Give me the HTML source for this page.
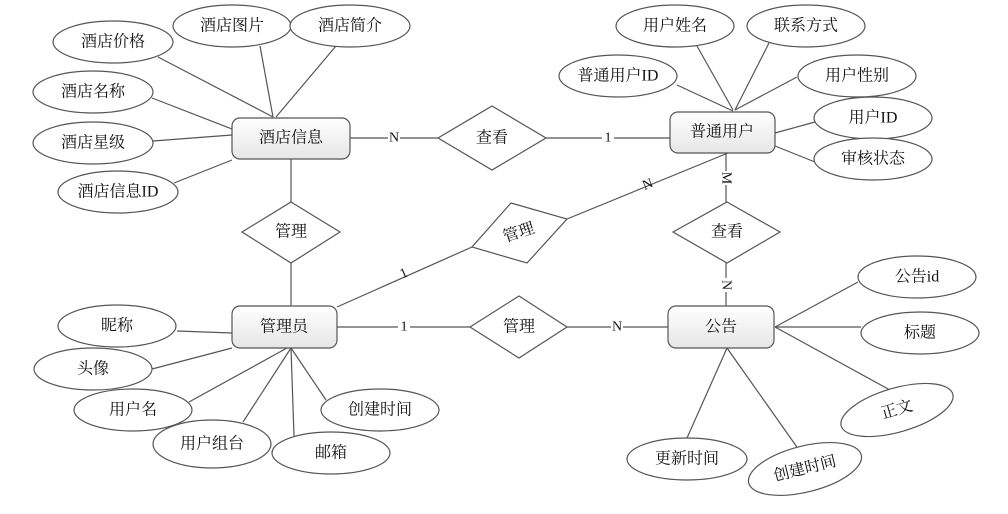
<!DOCTYPE html>
<html><head><meta charset="utf-8"><style>
html,body{margin:0;padding:0;background:#fff;}
svg{display:block;}
text{font-family:"Liberation Serif","Noto Serif CJK SC",serif;font-size:16px;fill:#111;text-anchor:middle;dominant-baseline:central;}
</style></head><body>
<svg width="1008" height="514" viewBox="0 0 1008 514" xmlns="http://www.w3.org/2000/svg">
<defs><linearGradient id="g" x1="0" y1="0" x2="0" y2="1"><stop offset="0" stop-color="#ffffff"/><stop offset="1" stop-color="#e6e6e6"/></linearGradient></defs>
<g stroke="#555" stroke-width="1.2" fill="none">
<!-- hotel lines -->
<line x1="158" y1="57" x2="273" y2="117"/>
<line x1="260" y1="46" x2="273" y2="117"/>
<line x1="336" y1="46" x2="276" y2="117"/>
<line x1="152" y1="98" x2="232" y2="129"/>
<line x1="153" y1="141" x2="232" y2="135"/>
<line x1="174" y1="183" x2="232" y2="160"/>
<line x1="350" y1="138" x2="438" y2="138"/>
<line x1="546" y1="138" x2="670" y2="138"/>
<line x1="291" y1="159" x2="291" y2="202"/>
<line x1="291" y1="263" x2="291" y2="306"/>
<!-- user lines -->
<line x1="677" y1="85" x2="733" y2="111"/>
<line x1="697" y1="46" x2="733" y2="110"/>
<line x1="769" y1="43" x2="735" y2="110"/>
<line x1="797" y1="77" x2="735" y2="110"/>
<line x1="815" y1="122" x2="775" y2="133"/>
<line x1="815" y1="162" x2="775" y2="146"/>
<line x1="728" y1="153" x2="567" y2="219"/>
<line x1="726" y1="153" x2="726" y2="202"/>
<line x1="726" y1="263" x2="726" y2="306"/>
<line x1="337" y1="307" x2="472" y2="247"/>
<line x1="337" y1="327" x2="470" y2="327"/>
<line x1="567" y1="327" x2="668" y2="327"/>
<!-- notice lines -->
<line x1="858" y1="282" x2="775" y2="327"/>
<line x1="775" y1="327" x2="861" y2="327"/>
<line x1="775" y1="327" x2="890" y2="390"/>
<line x1="727" y1="348" x2="687" y2="438"/>
<line x1="727" y1="348" x2="799" y2="450"/>
<!-- admin lines -->
<line x1="177" y1="331" x2="232" y2="333"/>
<line x1="152" y1="369" x2="232" y2="348"/>
<line x1="189" y1="402" x2="287" y2="348"/>
<line x1="243" y1="422" x2="291" y2="348"/>
<line x1="294" y1="436" x2="291" y2="348"/>
<line x1="326" y1="400" x2="291" y2="348"/>
</g>
<g stroke="#555" stroke-width="1.2" fill="#fff">
<ellipse cx="113" cy="42" rx="60" ry="21"/>
<ellipse cx="232" cy="26" rx="59" ry="21"/>
<ellipse cx="350" cy="26" rx="60" ry="21"/>
<ellipse cx="93" cy="92" rx="60" ry="21"/>
<ellipse cx="93" cy="143" rx="60" ry="21"/>
<ellipse cx="118" cy="192" rx="60" ry="21"/>
<ellipse cx="675" cy="26" rx="59" ry="21"/>
<ellipse cx="806" cy="26" rx="59" ry="21"/>
<ellipse cx="618" cy="76" rx="59" ry="21"/>
<ellipse cx="857" cy="76" rx="59" ry="21"/>
<ellipse cx="873" cy="118" rx="59" ry="21"/>
<ellipse cx="873" cy="159" rx="59" ry="21"/>
<ellipse cx="917" cy="277" rx="59" ry="21"/>
<ellipse cx="920" cy="333" rx="59" ry="21"/>
<ellipse cx="897" cy="410" rx="58" ry="22" transform="rotate(-16 897 410)"/>
<ellipse cx="687" cy="459" rx="60" ry="21"/>
<ellipse cx="805" cy="469" rx="58" ry="23" transform="rotate(-14 805 469)"/>
<ellipse cx="117" cy="326" rx="59" ry="21"/>
<ellipse cx="93" cy="369" rx="59" ry="21"/>
<ellipse cx="133" cy="410" rx="59" ry="21"/>
<ellipse cx="212" cy="444" rx="59" ry="24"/>
<ellipse cx="331" cy="453" rx="59" ry="21"/>
<ellipse cx="380" cy="410" rx="59" ry="21"/>
<polygon points="492,106 546,138 492,170 438,138"/>
<polygon points="291,202 340,232 291,263 242,232"/>
<polygon points="727,202 780,232 727,263 673,232"/>
<polygon points="519,296 567,327 519,358 470,327"/>
<polygon points="511,203 567,219 527,263 472,247"/>
</g>
<g stroke="#555" stroke-width="1.2" fill="url(#g)">
<rect x="232" y="118" width="118" height="41" rx="8"/>
<rect x="670" y="112" width="105" height="41" rx="8"/>
<rect x="232" y="306" width="105" height="42" rx="8"/>
<rect x="668" y="306" width="106" height="42" rx="8"/>
</g>
<g>
<text x="113" y="42">酒店价格</text>
<text x="232" y="26">酒店图片</text>
<text x="350" y="26">酒店简介</text>
<text x="93" y="92">酒店名称</text>
<text x="93" y="143">酒店星级</text>
<text x="118" y="192">酒店信息ID</text>
<text x="291" y="138">酒店信息</text>
<text x="492" y="138">查看</text>
<text x="291" y="232">管理</text>
<text x="675" y="26">用户姓名</text>
<text x="806" y="26">联系方式</text>
<text x="618" y="76">普通用户ID</text>
<text x="857" y="76">用户性别</text>
<text x="873" y="118">用户ID</text>
<text x="873" y="159">审核状态</text>
<text x="722" y="132">普通用户</text>
<text x="727" y="232">查看</text>
<text x="519" y="233" transform="rotate(-18 519 233)">管理</text>
<text x="519" y="327">管理</text>
<text x="284" y="327">管理员</text>
<text x="721" y="327">公告</text>
<text x="917" y="277">公告id</text>
<text x="920" y="333">标题</text>
<text x="897" y="410" transform="rotate(-16 897 410)">正文</text>
<text x="687" y="459">更新时间</text>
<text x="805" y="469" transform="rotate(-14 805 469)">创建时间</text>
<text x="117" y="326">昵称</text>
<text x="93" y="369">头像</text>
<text x="133" y="410">用户名</text>
<text x="212" y="444">用户组台</text>
<text x="331" y="453">邮箱</text>
<text x="380" y="410">创建时间</text>
</g>
<g style="font-size:14px">
<rect x="388" y="130" width="12" height="16" fill="#fff"/><text x="394" y="138" style="font-size:14px">N</text>
<rect x="602" y="130" width="12" height="16" fill="#fff"/><text x="608" y="138" style="font-size:14px">1</text>
<rect x="398" y="319" width="12" height="16" fill="#fff"/><text x="404" y="327" style="font-size:14px">1</text>
<rect x="611" y="319" width="12" height="16" fill="#fff"/><text x="617" y="327" style="font-size:14px">N</text>
<text x="404" y="274" style="font-size:14px" transform="rotate(-24 404 274)">1</text>
<text x="648" y="185" style="font-size:14px" transform="rotate(-22 648 185)">N</text>
<rect x="719" y="171" width="14" height="14" fill="#fff"/><text x="726" y="178" style="font-size:14px" transform="rotate(90 726 178)">M</text>
<rect x="719" y="278" width="14" height="14" fill="#fff"/><text x="726" y="285" style="font-size:14px" transform="rotate(90 726 285)">N</text>
</g>
</svg>
</body></html>
